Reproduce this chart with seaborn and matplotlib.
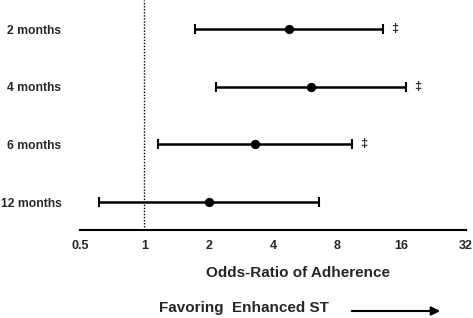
import matplotlib
matplotlib.use("Agg")
import matplotlib.pyplot as plt
import seaborn as sns
import numpy as np
import pandas as pd

labels = ["2 months", "4 months", "6 months", "12 months"]
odds = [4.77, 6.05, 3.31, 2.01]
lower = [1.73, 2.17, 1.16, 0.616]
upper = [13.1, 16.8, 9.41, 6.6]
sig = ["‡", "‡", "‡", ""]
xticks = [0.5, 1, 2, 4, 8, 16, 32]
xticklabels = ["0.5", "1", "2", "4", "8", "16", "32"]

sns.set_theme(style="white")
plt.rcParams['font.family'] = ['Liberation Sans', 'DejaVu Sans']

df = pd.DataFrame({"label": labels, "odds": odds, "lower": lower, "upper": upper,
                   "pos": np.arange(len(labels))})

fig = plt.figure(figsize=(4.73, 3.18), dpi=100)
ax = fig.add_axes([80/473, 1 - 230/318, (466-80)/473, 230/318])

ax.axvline(1, color="black", ls=(0, (1, 1.2)), lw=1, zorder=1)
ax.errorbar(df["odds"], df["pos"],
            xerr=[df["odds"] - df["lower"], df["upper"] - df["odds"]],
            fmt="none", ecolor="black", elinewidth=1.8, capsize=3.5, capthick=1.5, zorder=2)
sns.scatterplot(data=df, x="odds", y="pos", ax=ax, color="black", s=38,
                edgecolor="black", zorder=3, legend=False)
for i, (u, s) in enumerate(zip(upper, sig)):
    if s:
        ax.annotate(s, xy=(u, i), xytext=(8.5, 0), textcoords="offset points",
                    ha="center", va="center", fontsize=9.5, fontweight="bold")

ax.set_xscale("log", base=2)
ax.set_xlim(0.5, 32)
ax.set_ylim(3.485, -0.503)
ax.set_xticks(xticks)
ax.set_xticklabels(xticklabels, fontsize=9, fontweight="bold")
ax.minorticks_off()
ax.set_yticks(df["pos"])
ax.set_yticklabels(labels, fontsize=8.7, fontweight="bold")
ax.tick_params(axis="y", length=0, pad=13.5)
ax.tick_params(axis="x", direction="inout", length=6, width=1.3, color="black", pad=4)
for sp in ["top", "right", "left"]:
    ax.spines[sp].set_visible(False)
ax.spines["bottom"].set_color("black")
ax.spines["bottom"].set_linewidth(1.5)
ax.set_xlabel("")
ax.set_ylabel("")

fig.text(298/473, 1 - 273/318, "Odds-Ratio of Adherence", ha="center", va="center",
         fontsize=11, fontweight="bold")
fig.text(244/473, 1 - 308/318, "Favoring  Enhanced ST", ha="center", va="center",
         fontsize=11, fontweight="bold")
fig.add_artist(matplotlib.patches.FancyArrowPatch((349/473, 1 - 311/318), (443/473, 1 - 311/318),
               transform=fig.transFigure, arrowstyle="-|>", mutation_scale=13,
               color="black", lw=1.5))

fig.savefig("out.png", dpi=100)
